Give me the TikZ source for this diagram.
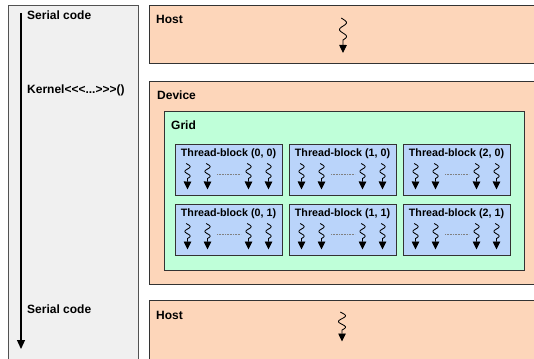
\documentclass[tikz,border=0pt]{standalone}
\usepackage{fontspec}
\setmainfont{Liberation Sans}[Ligatures=TeXOff]
\usetikzlibrary{arrows.meta}
\definecolor{panelgray}{RGB}{240,240,240}
\definecolor{hostpeach}{RGB}{253,214,186}
\definecolor{gridmint}{RGB}{191,255,217}
\definecolor{blockblue}{RGB}{186,212,250}
\definecolor{edgegray}{RGB}{51,51,51}

\begin{document}
\begin{tikzpicture}[x=1pt,y=-1pt,
  box/.style={draw=edgegray, line width=0.8pt, inner sep=0pt, anchor=north west},
  tblock/.style={box, fill=blockblue, line width=1.1pt, minimum width=107pt, minimum height=51pt},
  lbl/.style={font=\fontsize{12}{14}\selectfont\bfseries, inner sep=0pt, anchor=base west},
  blocktitle/.style={font=\fontsize{10.7}{12}\selectfont\bfseries, inner sep=0pt, anchor=base},
  threadline/.style={line width=0.85pt, -{Triangle[width=7.5pt,length=8pt]}},
  dots/.style={densely dotted, line width=0.6pt, gray},
  pics/thread/.style n args={3}{code={
    \draw[threadline] plot[domain=0:1, samples=40, smooth]
      ({#3*sin(-30+570*\x)}, {#1*\x}) -- (0,#2);
  }}
]
\clip (0,0) rectangle (534,358);

% left column: program flow
\node[box, draw=edgegray!85, fill=panelgray, minimum width=130pt, minimum height=380pt] (panel) at (8,5) {};
\coordinate (tstart) at (21,13);
\coordinate (tend) at (21,349);
\draw[line width=1.3pt, -{Triangle[width=8pt,length=9pt]}] (tstart) -- (tend);
\node[lbl] (serial1) at (27,20) {Serial code};
\node[lbl] (kernel) at (27,94) {Kernel<<<...>>>()};
\node[lbl] (serial2) at (27,313) {Serial code};

% host (first serial part)
\node[box, fill=hostpeach, minimum width=400pt, minimum height=58pt] (host1) at (149,5) {};
\node[lbl] (hostlbl1) at (156,24) {Host};
\pic at (343,18) {thread={22}{35}{3.5}};

% device with grid of thread blocks
\node[box, fill=hostpeach, minimum width=400pt, minimum height=203pt] (device) at (149,81) {};
\node[lbl] (devlbl) at (157,99.5) {Device};
\node[box, fill=gridmint, minimum width=360pt, minimum height=159pt] (grid) at (164,111) {};
\node[lbl] (gridlbl) at (171,129) {Grid};

\foreach \c/\cx in {0/175,1/289,2/403}{
  \foreach \r/\ry in {0/144,1/204}{
    \node[tblock] (tb\c\r) at (\cx,\ry) {};
    \node[blocktitle] (tbt\c\r) at (\cx+53.5,\ry+12) {Thread-block (\c, \r)};
    \foreach \o in {12.5,32.5,73.5,93.5}
      \pic at (\cx+\o,\ry+19.5) {thread={15}{26}{2.6}};
    \coordinate (dl\c\r) at (\cx+42,\ry+30);
    \coordinate (dr\c\r) at (\cx+66,\ry+30);
    \draw[dots] (dl\c\r) -- (dr\c\r);
  }
}

% host (second serial part)
\node[box, fill=hostpeach, minimum width=400pt, minimum height=80pt] (host2) at (149,300) {};
\node[lbl] (hostlbl2) at (156,319) {Host};
\pic at (342,312) {thread={18}{29.5}{3.5}};
\end{tikzpicture}
\end{document}
